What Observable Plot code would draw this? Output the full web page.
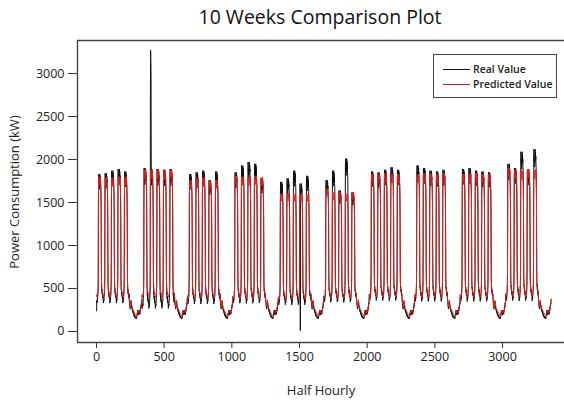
<!DOCTYPE html>
<html>
<head>
<meta charset="utf-8">
<script src="https://cdn.jsdelivr.net/npm/d3@7"></script>
<script src="https://cdn.jsdelivr.net/npm/@observablehq/plot@0.6"></script>
<style>
  html, body { margin: 0; padding: 0; background: #fff; overflow: hidden; }
  #wrap { position: relative; width: 564px; height: 402px; font-family: "Open Sans", sans-serif; color: #222; }
  #title { position: absolute; left: 320px; top: 4px; transform: translateX(-50%); font-size: 19.5px; line-height: 26px; white-space: nowrap; color: #111; }
  #ylab { position: absolute; left: 14px; top: 192px; transform: translate(-50%, -50%) rotate(-90deg); font-size: 13px; white-space: nowrap; }
  #xlab { position: absolute; left: 321px; top: 390px; transform: translate(-50%, -50%); font-size: 13px; white-space: nowrap; }
  #legend { position: absolute; left: 433px; top: 54px; width: 122px; height: 42px; border: 1px solid #444; background: #fff; }
  .lg { position: absolute; left: 9px; height: 14px; font-size: 10.5px; font-weight: 600; line-height: 14px; white-space: nowrap; color: #222; }
  .lg span.sw { display: inline-block; width: 27px; height: 0; vertical-align: middle; margin-right: 3px; position: relative; top: -1px; }
</style>
</head>
<body>
<div id="wrap">
  <div id="chart"></div>
  <div id="title">10 Weeks Comparison Plot</div>
  <div id="ylab">Power Consumption (kW)</div>
  <div id="xlab">Half Hourly</div>
  <div id="legend">
    <div class="lg" style="top:7px"><span class="sw" style="border-top:1.2px solid #111"></span>Real Value</div>
    <div class="lg" style="top:22px"><span class="sw" style="border-top:1.5px solid #d42020"></span>Predicted Value</div>
  </div>
</div>
<script>
// ---- Data (kW) ----
const weeks = 10;
const xTicks = [0, 500, 1000, 1500, 2000, 2500, 3000];
const yTicks = [0, 500, 1000, 1500, 2000, 2500, 3000];

// Daytime peak per weekday (10 weeks x Mon..Fri)
const predPeak = [
  1800, 1790, 1790, 1800, 1800,
  1880, 1880, 1880, 1870, 1880,
  1760, 1780, 1790, 1750, 1760,
  1810, 1800, 1800, 1810, 1790,
  1600, 1610, 1600, 1600, 1600,
  1660, 1620, 1620, 1600, 1620,
  1830, 1830, 1840, 1830, 1830,
  1830, 1840, 1830, 1830, 1840,
  1830, 1830, 1840, 1830, 1830,
  1900, 1880, 1870, 1890, 1880
];
const realPeak = [
  1830, 1840, 1870, 1890, 1860,
  1900, 1890, 1890, 1880, 1890,
  1830, 1850, 1870, 1760, 1860,
  1850, 1930, 1970, 1950, 1780,
  1740, 1780, 1870, 1720, 1810,
  1760, 1870, 1640, 2010, 1620,
  1860, 1850, 1880, 1910, 1880,
  1930, 1900, 1870, 1860, 1880,
  1890, 1900, 1870, 1860, 1850,
  1950, 1900, 2090, 1880, 2120
];
// Weekday night level per week
const predNight = [400, 400, 390, 380, 380, 390, 400, 400, 400, 410];
const realNight = [360, 300, 350, 360, 340, 370, 390, 380, 380, 390];

// Weekday half-hourly shape (share of the night-to-peak range)
const predShape = [
  0.02, 0.01, 0.00, 0.00, 0.00, 0.00, 0.00, 0.01, 0.01, 0.02, 0.03, 0.05,
  0.08, 0.15, 0.80, 0.95, 0.99, 1.00, 0.98, 0.96, 0.95, 0.94, 0.93, 0.93,
  0.95, 0.97, 0.99, 1.00, 0.99, 0.98, 0.96, 0.95, 0.93, 0.90, 0.85, 0.78,
  0.30, 0.14, 0.10, 0.08, 0.07, 0.06, 0.05, 0.04, 0.04, 0.03, 0.03, 0.02
];
const realShape = [
  0.03, 0.01, 0.00, -0.02, -0.01, 0.00, 0.01, 0.00, 0.02, 0.03, 0.05, 0.08,
  0.10, 0.18, 0.55, 0.92, 1.00, 0.97, 0.92, 0.95, 0.90, 0.88, 0.93, 0.91,
  0.97, 1.00, 0.96, 0.94, 0.98, 0.93, 0.95, 0.90, 0.88, 0.84, 0.74, 0.62,
  0.40, 0.16, 0.11, 0.08, 0.09, 0.06, 0.05, 0.07, 0.04, 0.03, 0.05, 0.02
];
// Weekend (Sat, Sun) half-hourly values
const predWeekend = [
  420, 400, 380, 360, 345, 330, 320, 310, 300, 295, 290, 290,
  300, 320, 340, 350, 350, 340, 330, 320, 310, 300, 290, 285,
  280, 275, 270, 265, 260, 260, 255, 250, 250, 245, 240, 235,
  235, 230, 225, 220, 220, 215, 210, 210, 205, 200, 200, 200,
  200, 195, 190, 190, 185, 180, 180, 180, 180, 180, 185, 190,
  200, 210, 220, 230, 240, 240, 235, 230, 225, 220, 215, 215,
  215, 220, 225, 230, 235, 240, 240, 235, 230, 225, 225, 230,
  240, 250, 260, 270, 280, 290, 300, 310, 320, 340, 360, 380
];
const realWeekend = [
  440, 410, 370, 350, 330, 300, 290, 280, 270, 260, 270, 280,
  310, 330, 320, 360, 340, 330, 310, 300, 280, 290, 270, 260,
  250, 260, 240, 250, 230, 240, 220, 230, 210, 220, 200, 210,
  190, 200, 180, 190, 175, 185, 170, 180, 165, 175, 160, 170,
  165, 160, 155, 165, 150, 160, 155, 150, 165, 160, 170, 180,
  190, 210, 200, 230, 220, 250, 230, 210, 220, 200, 190, 210,
  200, 220, 210, 240, 230, 250, 220, 230, 210, 200, 220, 230,
  250, 240, 270, 260, 290, 280, 310, 300, 330, 320, 350, 370
];
// Isolated events in the real series: [half-hour index, kW]
const realEvents = [
  [0, 240], [1, 250],
  [398, 2600], [399, 3050], [400, 3270], [401, 3150], [402, 3100], [403, 2950], [404, 2300],
  [1506, 10]
];

// ---- Build table ----
const rows = [];
for (let w = 0; w < weeks; w++) {
  for (let d = 0; d < 7; d++) {
    for (let h = 0; h < 48; h++) {
      const i = w * 336 + d * 48 + h;
      let p, r;
      if (d < 5) {
        const k = w * 5 + d;
        p = predNight[w] + predShape[h] * (predPeak[k] - predNight[w]);
        r = realNight[w] + realShape[h] * (realPeak[k] - realNight[w]);
      } else {
        p = predWeekend[(d - 5) * 48 + h];
        r = realWeekend[(d - 5) * 48 + h];
      }
      rows.push({i, pred: p, real: r});
    }
  }
}
for (const [i, v] of realEvents) rows[i].real = v;

const fmt = d => String(d);
const chart = Plot.plot({
  width: 564,
  height: 402,
  marginLeft: 77,
  marginRight: 0,
  marginTop: 40,
  marginBottom: 60,
  style: {fontFamily: "Open Sans, sans-serif", fontSize: "12.5px", color: "#222", background: "white"},
  x: {domain: [-140.4, 3458], axis: null},
  y: {domain: [-128, 3384], axis: null},
  marks: [
    Plot.lineY(rows, {x: "i", y: "real", stroke: "#111", strokeWidth: 1}),
    Plot.lineY(rows, {x: "i", y: "pred", stroke: "#e22020", strokeWidth: 1}),
    Plot.axisX({ticks: xTicks, tickFormat: fmt, tickSize: 6, tickPadding: 4, stroke: "#333", label: null, fontSize: 12.5}),
    Plot.axisY({ticks: yTicks, tickFormat: fmt, tickSize: 9, tickPadding: 4, stroke: "#333", label: null, fontSize: 12.5}),
    Plot.ruleX([-140.4], {stroke: "#444", strokeWidth: 1.4}),
    Plot.ruleY([-128, 3384], {stroke: "#444", strokeWidth: 1.4})
  ]
});
document.getElementById("chart").appendChild(chart);
</script>
</body>
</html>
